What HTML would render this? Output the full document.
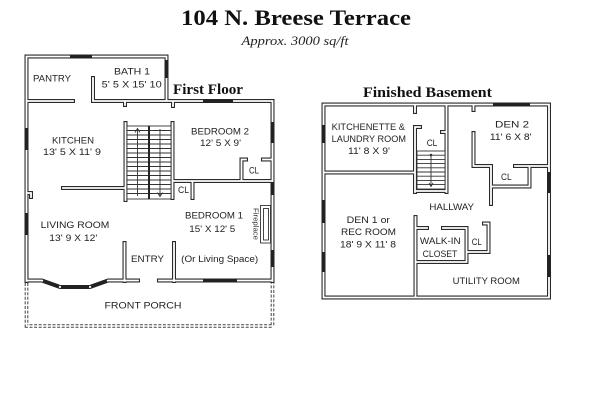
<!DOCTYPE html>
<html><head><meta charset="utf-8"><style>
html,body{margin:0;padding:0;background:#fff;}
svg{display:block;}
.t{font-family:"Liberation Sans",sans-serif;font-size:9.6px;fill:#222;text-anchor:middle;}
.wo{fill:none;stroke:#2a2a2a;stroke-width:4;stroke-linecap:square;stroke-linejoin:miter;}
.wi{fill:none;stroke:#fff;stroke-width:1.8;stroke-linecap:square;stroke-linejoin:miter;}
.win{fill:none;stroke:#222;stroke-width:3.8;stroke-linecap:butt;}
.ln{fill:none;stroke:#333;stroke-width:0.9;}
</style></head><body>
<svg width="600" height="400" viewBox="0 0 600 400" xmlns="http://www.w3.org/2000/svg">
<rect width="600" height="400" fill="#fff"/>
<text x="296" y="25" font-family="Liberation Serif,serif" font-weight="bold" font-size="22" fill="#111" text-anchor="middle" textLength="230" lengthAdjust="spacingAndGlyphs">104 N. Breese Terrace</text>
<text x="295" y="45" font-family="Liberation Serif,serif" font-style="italic" font-size="13" fill="#222" text-anchor="middle" textLength="107" lengthAdjust="spacingAndGlyphs">Approx. 3000 sq/ft</text>
<text x="173" y="94" font-family="Liberation Serif,serif" font-weight="bold" font-size="15" fill="#111" textLength="70" lengthAdjust="spacingAndGlyphs">First Floor</text>
<text x="363" y="97" font-family="Liberation Serif,serif" font-weight="bold" font-size="15" fill="#111" textLength="129" lengthAdjust="spacingAndGlyphs">Finished Basement</text>

<!-- porch dashed -->
<path d="M26.5,283 V326 H272.5 V283" fill="none" stroke="#444" stroke-width="3.6" stroke-dasharray="3 1.6"/>
<path d="M26.5,283 V326 H272.5 V283" fill="none" stroke="#fff" stroke-width="1.6"/>

<!-- walls -->
<g>
<path class="wo" d="M26.5,281 V56.5 H166.5 V101 M93,78 V101 H272.5 V281 M27,101 H73 M125.5,123 V200 M63,188 H125.5 M172.5,123 V198 M172.5,181 H272 M241.5,181 V159.5 H246 M263,159.5 H272 M192.5,181 V198 M174,243 V281 M124.5,243 V281 M26.5,280.5 H42 L60,287 H90 L108,280.5 H138 M159,280.5 H272.5 M125,101 V105 M173,101 V106 M26.5,193 H31 V197
M323.5,297.5 V104.5 H549 V297.5 Z M324,172.5 H414 M415,104.5 V112 M415,127 V192 M415,127 H420 M446.5,104.5 V192 M442,132 H446.5 M415,191 H446.5 M473.5,104.5 V110 M473.5,133 V166 H491 V204 M515,166 H549 M529.5,166 V186.5 H491 M415.5,217 V297.5 M415.5,228 H427 M443,228 H466.5 V262 H415.5 M466.5,252 H488.5 V223.5 H484"/>
<path class="wi" d="M26.5,281 V56.5 H166.5 V101 M93,78 V101 H272.5 V281 M27,101 H73 M125.5,123 V200 M63,188 H125.5 M172.5,123 V198 M172.5,181 H272 M241.5,181 V159.5 H246 M263,159.5 H272 M192.5,181 V198 M174,243 V281 M124.5,243 V281 M26.5,280.5 H42 L60,287 H90 L108,280.5 H138 M159,280.5 H272.5 M125,101 V105 M173,101 V106 M26.5,193 H31 V197
M323.5,297.5 V104.5 H549 V297.5 Z M324,172.5 H414 M415,104.5 V112 M415,127 V192 M415,127 H420 M446.5,104.5 V192 M442,132 H446.5 M415,191 H446.5 M473.5,104.5 V110 M473.5,133 V166 H491 V204 M515,166 H549 M529.5,166 V186.5 H491 M415.5,217 V297.5 M415.5,228 H427 M443,228 H466.5 V262 H415.5 M466.5,252 H488.5 V223.5 H484"/>
</g>

<!-- windows -->
<path class="win" d="M70,56.5 H92 M166.5,60 V78 M26.5,128 V150 M26.5,213 V235 M203,101 H233 M272.5,122 V143 M272.5,182 V195 M272.5,250 V267 M203,280.5 H237 M43,281 L59,286.5 M61,287 H89 M91,286.5 L107,281
M323.5,125 V143 M323.5,200 V223 M323.5,252 V272 M493,104.5 H530 M549,172 V193 M549,255 V277"/>

<!-- first floor stairs -->
<rect x="127" y="126" width="44" height="73" fill="#fff" stroke="#333" stroke-width="0.9"/>
<path class="ln" d="M127,130.5H171 M127,135H171 M127,139.5H171 M127,144H171 M127,148.5H171 M127,153H171 M127,157.5H171 M127,162H171 M127,166.5H171 M127,171H171 M127,175.5H171 M127,180H171 M127,184.5H171 M127,189H171 M127,193.5H171"/>
<path d="M149,126 V199" stroke="#222" stroke-width="2"/>
<path class="ln" d="M137.5,196 V129 M135,132.5 L137.5,128.5 L140,132.5 M160,129 V196 M157.5,192.5 L160,196.5 L162.5,192.5"/>

<!-- fireplace -->
<rect x="260.5" y="205.5" width="10" height="37.5" fill="#fff" stroke="#333" stroke-width="0.9"/>
<rect x="263.5" y="208.5" width="5" height="31.5" fill="#fff" stroke="#333" stroke-width="0.9"/>
<text x="0" y="0" transform="translate(253.5,224) rotate(90)" font-family="Liberation Sans,sans-serif" font-size="7" fill="#333" text-anchor="middle" textLength="32" lengthAdjust="spacingAndGlyphs">Fireplace</text>

<!-- basement stairs -->
<rect x="417" y="151" width="28" height="38" fill="#fff" stroke="#333" stroke-width="0.9"/>
<path class="ln" d="M417,155.2H445 M417,159.4H445 M417,163.6H445 M417,167.8H445 M417,172H445 M417,176.2H445 M417,180.4H445 M417,184.6H445 M431,154.5 V186 M429,183 L431,186.5 L433,183"/>
<circle cx="431" cy="155" r="1.3" fill="#333"/>

<!-- labels first floor -->
<text class="t" x="52" y="81.5" textLength="38" lengthAdjust="spacingAndGlyphs">PANTRY</text>
<text class="t" x="132" y="74.5" textLength="36" lengthAdjust="spacingAndGlyphs">BATH 1</text>
<text class="t" x="131.7" y="87.5" textLength="60" lengthAdjust="spacingAndGlyphs">5' 5 X 15' 10</text>
<text class="t" x="73" y="143.5" textLength="42" lengthAdjust="spacingAndGlyphs">KITCHEN</text>
<text class="t" x="72" y="155" textLength="58" lengthAdjust="spacingAndGlyphs">13' 5 X 11' 9</text>
<text class="t" x="220" y="134.5" textLength="58" lengthAdjust="spacingAndGlyphs">BEDROOM 2</text>
<text class="t" x="220.5" y="146" textLength="41" lengthAdjust="spacingAndGlyphs">12' 5 X 9'</text>
<text class="t" x="254" y="173.5" textLength="10" lengthAdjust="spacingAndGlyphs">CL</text>
<text class="t" x="183.5" y="193" textLength="11" lengthAdjust="spacingAndGlyphs">CL</text>
<text class="t" x="75" y="228" textLength="68.6" lengthAdjust="spacingAndGlyphs">LIVING ROOM</text>
<text class="t" x="73.3" y="241" textLength="48" lengthAdjust="spacingAndGlyphs">13' 9 X 12'</text>
<text class="t" x="147.5" y="262" textLength="33" lengthAdjust="spacingAndGlyphs">ENTRY</text>
<text class="t" x="143" y="308.5" textLength="77" lengthAdjust="spacingAndGlyphs">FRONT PORCH</text>
<text class="t" x="214" y="218.5" textLength="58" lengthAdjust="spacingAndGlyphs">BEDROOM 1</text>
<text class="t" x="212.3" y="232" textLength="46" lengthAdjust="spacingAndGlyphs">15' X 12' 5</text>
<text class="t" x="219.7" y="262" textLength="77" lengthAdjust="spacingAndGlyphs">(Or Living Space)</text>

<!-- labels basement -->
<text class="t" x="368.3" y="130" textLength="73.3" lengthAdjust="spacingAndGlyphs">KITCHENETTE &amp;</text>
<text class="t" x="368.8" y="142" textLength="74.3" lengthAdjust="spacingAndGlyphs">LAUNDRY ROOM</text>
<text class="t" x="369" y="154" textLength="42" lengthAdjust="spacingAndGlyphs">11' 8 X 9'</text>
<text class="t" x="432" y="146" textLength="10.6" lengthAdjust="spacingAndGlyphs">CL</text>
<text class="t" x="512" y="127.5" textLength="34" lengthAdjust="spacingAndGlyphs">DEN 2</text>
<text class="t" x="510.8" y="140" textLength="41.7" lengthAdjust="spacingAndGlyphs">11' 6 X 8'</text>
<text class="t" x="506.3" y="180" textLength="10.6" lengthAdjust="spacingAndGlyphs">CL</text>
<text class="t" x="451.7" y="210" textLength="44.7" lengthAdjust="spacingAndGlyphs">HALLWAY</text>
<text class="t" x="368.3" y="223" textLength="43.3" lengthAdjust="spacingAndGlyphs">DEN 1 or</text>
<text class="t" x="368.5" y="235" textLength="55" lengthAdjust="spacingAndGlyphs">REC ROOM</text>
<text class="t" x="368" y="247.5" textLength="56" lengthAdjust="spacingAndGlyphs">18' 9 X 11' 8</text>
<text class="t" x="440.3" y="244" textLength="40.7" lengthAdjust="spacingAndGlyphs">WALK-IN</text>
<text class="t" x="440" y="257" textLength="34.7" lengthAdjust="spacingAndGlyphs">CLOSET</text>
<text class="t" x="476.7" y="245" textLength="10" lengthAdjust="spacingAndGlyphs">CL</text>
<text class="t" x="486.3" y="284" textLength="67.3" lengthAdjust="spacingAndGlyphs">UTILITY ROOM</text>
</svg>
</body></html>
